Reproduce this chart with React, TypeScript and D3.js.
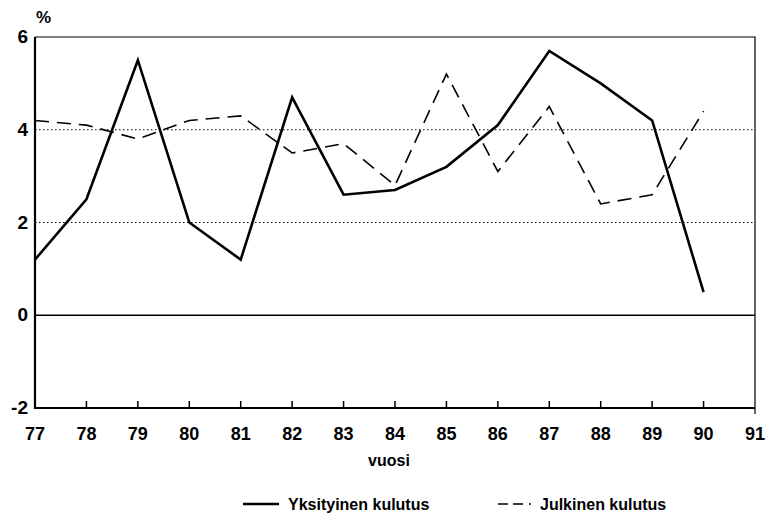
import React, { useEffect, useRef } from "react";
import * as d3 from "d3";

// vuodet 1977-1990, muutos %
const years = [77, 78, 79, 80, 81, 82, 83, 84, 85, 86, 87, 88, 89, 90];
const yksityinen = [1.2, 2.5, 5.5, 2.0, 1.2, 4.7, 2.6, 2.7, 3.2, 4.1, 5.7, 5.0, 4.2, 0.5];
const julkinen = [4.2, 4.1, 3.8, 4.2, 4.3, 3.5, 3.7, 2.8, 5.2, 3.1, 4.5, 2.4, 2.6, 4.4];
const xTicks = [77, 78, 79, 80, 81, 82, 83, 84, 85, 86, 87, 88, 89, 90, 91];
const yTicks = [-2, 0, 2, 4, 6];
const seriesNames = ["Yksityinen kulutus", "Julkinen kulutus"];

const W = 765;
const H = 521;
const FONT = "'Liberation Sans', Arial, sans-serif";

const App = () => {
  const ref = useRef<SVGSVGElement>(null);

  useEffect(() => {
    const svg = d3.select(ref.current);
    svg.selectAll("*").remove();

    const x = d3.scaleLinear().domain([77, 91]).range([35, 755]);
    const y = d3.scaleLinear().domain([-2, 6]).range([408, 37]);

    // dotted gridlines
    svg
      .selectAll("line.grid")
      .data([2, 4])
      .enter()
      .append("line")
      .attr("x1", x(77))
      .attr("x2", x(91))
      .attr("y1", (d) => y(d))
      .attr("y2", (d) => y(d))
      .attr("stroke", "#000")
      .attr("stroke-width", 1)
      .attr("stroke-dasharray", "1.5,2.5");

    // zero line
    svg
      .append("line")
      .attr("x1", x(77))
      .attr("x2", x(91))
      .attr("y1", y(0))
      .attr("y2", y(0))
      .attr("stroke", "#000")
      .attr("stroke-width", 1.5);

    // frame
    svg
      .append("path")
      .attr("d", `M${x(77)},${y(6)}H${x(91)}V${y(-2) + 6}`)
      .attr("fill", "none")
      .attr("stroke", "#000")
      .attr("stroke-width", 1.2);
    svg
      .append("path")
      .attr("d", `M${x(77)},${y(6)}V${y(-2)}H${x(91)}`)
      .attr("fill", "none")
      .attr("stroke", "#000")
      .attr("stroke-width", 2.2);

    // x ticks (inward)
    svg
      .selectAll("line.xt")
      .data(xTicks.slice(1, -1))
      .enter()
      .append("line")
      .attr("x1", (d) => x(d))
      .attr("x2", (d) => x(d))
      .attr("y1", y(-2))
      .attr("y2", y(-2) - 7)
      .attr("stroke", "#000")
      .attr("stroke-width", 1.5);

    svg
      .selectAll("text.xl")
      .data(xTicks)
      .enter()
      .append("text")
      .attr("x", (d) => x(d))
      .attr("y", 440)
      .attr("text-anchor", "middle")
      .attr("font-family", FONT)
      .attr("font-weight", "bold")
      .attr("font-size", 18)
      .text((d) => d);

    svg
      .selectAll("text.yl")
      .data(yTicks)
      .enter()
      .append("text")
      .attr("x", 28)
      .attr("y", (d) => y(d) + 6)
      .attr("text-anchor", "end")
      .attr("font-family", FONT)
      .attr("font-weight", "bold")
      .attr("font-size", 19)
      .text((d) => d);

    svg
      .append("text")
      .attr("x", 36)
      .attr("y", 23)
      .attr("font-family", FONT)
      .attr("font-weight", "bold")
      .attr("font-size", 17)
      .text("%");

    svg
      .append("text")
      .attr("x", 389)
      .attr("y", 466)
      .attr("text-anchor", "middle")
      .attr("font-family", FONT)
      .attr("font-weight", "bold")
      .attr("font-size", 16)
      .text("vuosi");

    const line = d3
      .line<number>()
      .x((d, i) => x(years[i]))
      .y((d) => y(d));

    svg
      .append("path")
      .attr("d", line(julkinen))
      .attr("fill", "none")
      .attr("stroke", "#000")
      .attr("stroke-width", 1.6)
      .attr("stroke-dasharray", "14,8");

    svg
      .append("path")
      .attr("d", line(yksityinen))
      .attr("fill", "none")
      .attr("stroke", "#000")
      .attr("stroke-width", 2.6)
      .attr("stroke-linejoin", "miter");

    // legend
    svg
      .append("line")
      .attr("x1", 243)
      .attr("x2", 279)
      .attr("y1", 504)
      .attr("y2", 504)
      .attr("stroke", "#000")
      .attr("stroke-width", 2.4);
    svg
      .append("text")
      .attr("x", 288)
      .attr("y", 510)
      .attr("font-family", FONT)
      .attr("font-weight", "bold")
      .attr("font-size", 16)
      .text(seriesNames[0]);

    svg
      .append("line")
      .attr("x1", 498)
      .attr("x2", 534)
      .attr("y1", 504)
      .attr("y2", 504)
      .attr("stroke", "#000")
      .attr("stroke-width", 1.6)
      .attr("stroke-dasharray", "10,5,10,6,2,20");
    svg
      .append("text")
      .attr("x", 540)
      .attr("y", 510)
      .attr("font-family", FONT)
      .attr("font-weight", "bold")
      .attr("font-size", 16)
      .text(seriesNames[1]);
  }, []);

  return (
    <svg
      ref={ref}
      width={W}
      height={H}
      style={{ position: "absolute", left: 0, top: 0, background: "#fff" }}
    />
  );
};

export default App;
